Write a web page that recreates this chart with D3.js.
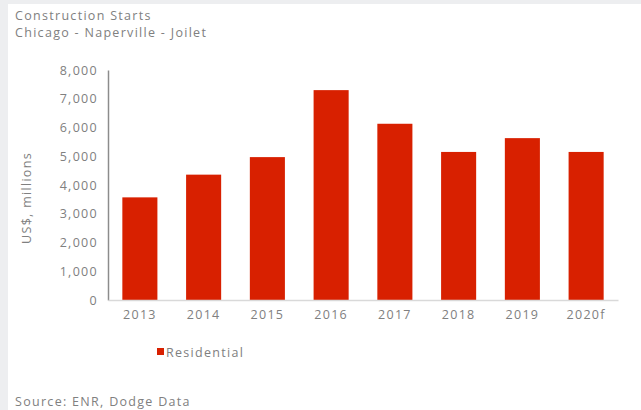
<!DOCTYPE html>
<html>
<head>
<meta charset="utf-8">
<script src="https://cdn.jsdelivr.net/npm/d3@7"></script>
<style>
  html, body { margin: 0; padding: 0; background: #ffffff; }
  svg { display: block; }
  text { font-family: "Open Sans", "Noto Sans", sans-serif; font-weight: 400; }
</style>
</head>
<body>
<svg id="chart" width="641" height="410"></svg>
<script>
// Construction starts, residential, US$ millions
const years = ["2013", "2014", "2015", "2016", "2017", "2018", "2019", "2020f"];
const residential = [3570, 4360, 4970, 7300, 6130, 5150, 5630, 5150];
const yTicks = [0, 1000, 2000, 3000, 4000, 5000, 6000, 7000, 8000];

const titleLines = ["Construction Starts", "Chicago - Naperville - Joilet"];
const yAxisTitle = "US$, millions";
const seriesName = "Residential";
const sourceNote = "Source: ENR, Dodge Data";

const textColor = "#808080";
const barColor = "#d82000";
const fontFamily = "'Open Sans', 'Noto Sans', sans-serif";
const fontSize = 12.5;
const spacing = "1.3px";

const svg = d3.select("#chart");

// light frame along the top and left edges
svg.append("rect").attr("x", 0).attr("y", 0).attr("width", 641).attr("height", 4).attr("fill", "#edeef0");
svg.append("rect").attr("x", 0).attr("y", 0).attr("width", 8).attr("height", 410).attr("fill", "#edeef0");

function styleText(sel) {
  return sel
    .attr("fill", textColor)
    .attr("font-size", fontSize)
    .attr("font-family", fontFamily)
    .attr("letter-spacing", spacing);
}

// titles
svg.selectAll("text.title")
  .data(titleLines)
  .join("text")
  .attr("class", "title")
  .attr("x", 15)
  .attr("y", (d, i) => 19.5 + i * 17)
  .call(styleText)
  .text(d => d);

const x = d3.scaleBand()
  .domain(years)
  .range([108, 618])
  .paddingInner(0.45)
  .paddingOuter(0.225);

const y = d3.scaleLinear()
  .domain([0, 8000])
  .range([300, 70]);

// bars
svg.append("g")
  .selectAll("rect")
  .data(residential)
  .join("rect")
  .attr("x", (d, i) => x(years[i]))
  .attr("y", d => y(d))
  .attr("width", x.bandwidth())
  .attr("height", d => y(0) - y(d))
  .attr("fill", barColor);

// y axis
const yAxis = svg.append("g")
  .attr("transform", "translate(108,0)")
  .call(d3.axisLeft(y).tickValues(yTicks).tickSize(0).tickPadding(10)
    .tickFormat(d3.format(",")));
yAxis.select(".domain").attr("stroke", "#8c8c8c").attr("stroke-width", 1.5);
yAxis.selectAll("text").call(styleText);

// x axis
const xAxis = svg.append("g")
  .attr("transform", "translate(0,300)")
  .call(d3.axisBottom(x).tickSize(0).tickPadding(10));
xAxis.select(".domain").attr("stroke", "#d9d9d9").attr("stroke-width", 1.5);
xAxis.selectAll("text").call(styleText);

// y axis title
svg.append("text")
  .attr("transform", "translate(31,198) rotate(-90)")
  .attr("text-anchor", "middle")
  .call(styleText)
  .text(yAxisTitle);

// legend
const legend = svg.append("g").attr("transform", "translate(157,348)");
legend.append("rect").attr("width", 7).attr("height", 7).attr("fill", barColor);
legend.append("text")
  .attr("x", 9)
  .attr("y", 8.5)
  .call(styleText)
  .text(seriesName);

// source note
svg.append("text")
  .attr("x", 15)
  .attr("y", 405.5)
  .call(styleText)
  .text(sourceNote);
</script>
</body>
</html>
